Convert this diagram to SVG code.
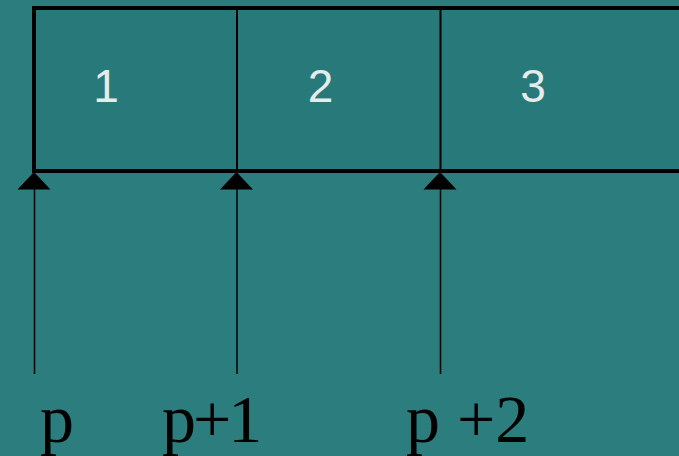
<svg xmlns="http://www.w3.org/2000/svg" width="679" height="456" viewBox="0 0 679 456">
<style>
.frame{fill:#277a79;stroke:#000;stroke-width:4}
.div{stroke:#000;stroke-width:2}
.ptr{stroke:#000;stroke-width:1.5}
.num{font-family:"Liberation Sans",Arial,sans-serif;font-size:46px;fill:#e6ecec;text-anchor:middle}
.lbl{font-family:"Liberation Serif","Times New Roman",serif;font-size:68px;fill:#000}
</style>
<defs>
<polygon id="tri" points="0,0 -16.5,17.5 16.5,17.5" fill="#000"/>
</defs>
<rect width="679" height="456" fill="#2b7e7d"/>
<g id="array">
<rect class="frame" x="34" y="8" width="700" height="163"/>
<line class="div" x1="237" y1="8" x2="237" y2="171"/>
<line class="div" x1="440.5" y1="8" x2="440.5" y2="171"/>
</g>
<g id="cell1"><text class="num" x="106" y="101.5">1</text></g>
<g id="cell2"><text class="num" x="320.5" y="101.5">2</text></g>
<g id="cell3"><text class="num" x="533" y="101.5">3</text></g>
<g id="connectors">
<line class="ptr" x1="34.5" y1="185" x2="34.5" y2="374"/>
<use href="#tri" x="34" y="172"/>
<line class="ptr" x1="237" y1="185" x2="237" y2="374"/>
<use href="#tri" x="236.5" y="172"/>
<line class="ptr" x1="440.5" y1="185" x2="440.5" y2="374"/>
<use href="#tri" x="440" y="172"/>
</g>
<g id="label-p"><text class="lbl" x="40" y="442">p</text></g>
<g id="label-p1"><text class="lbl" x="162" y="442" letter-spacing="-3">p+1</text></g>
<g id="label-p2"><text class="lbl" x="406" y="442">p +2</text></g>
</svg>
